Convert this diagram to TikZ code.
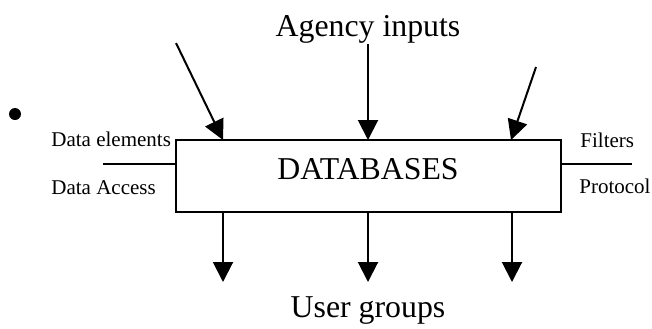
\documentclass[tikz,border=0pt]{standalone}
\usepackage{fontspec}
\setmainfont{Liberation Serif}
\usetikzlibrary{arrows.meta}
\begin{document}
\begin{tikzpicture}[x=0.5pt,y=-0.5pt,
  box/.style={draw,line width=1pt,minimum width=192.5pt,minimum height=36pt,inner sep=0pt},
  big/.style={font=\fontsize{15.9}{18}\selectfont,inner sep=0pt},
  small/.style={font=\fontsize{10.5}{12}\selectfont,inner sep=0pt},
  arr/.style={line width=1pt,-{Triangle[length=10pt,width=10pt]}},
  ln/.style={line width=1pt}]
\useasboundingbox (0,0) rectangle (652,328);
\node[box] (db) at (368.5,176) {};
\node[big,anchor=base] (dbt) at (368,179) {DATABASES};
\node[big,anchor=base] (ag) at (368,36) {Agency inputs};
\node[big,anchor=base] (ug) at (368,317) {User groups};
\node[small,anchor=base west] (de) at (51,146) {Data elements};
\node[small,anchor=base west] (da) at (51,194) {Data Access};
\node[small,anchor=base west] (fi) at (580,147) {Filters};
\node[small,anchor=base west] (pr) at (579,193) {Protocol};
\node[fill,circle,inner sep=0pt,minimum size=6pt] (bul) at (15,114) {};
% input arrows
\coordinate (in1) at (176,43);
\coordinate (in2) at (368,44);
\coordinate (in3) at (536,67);
\coordinate (t1) at (223,140);
\coordinate (t2) at (368,140);
\coordinate (t3) at (511,140);
\draw[arr] (in1) -- (t1);
\draw[arr] (in2) -- (t2);
\draw[arr] (in3) -- (t3);
% output arrows
\coordinate (o1) at (223,282);
\coordinate (o2) at (368,282);
\coordinate (o3) at (512,282);
\draw[arr] (db.south -| o1) -- (o1);
\draw[arr] (db.south -| o2) -- (o2);
\draw[arr] (db.south -| o3) -- (o3);
% side lines
\coordinate (l1) at (103,164);
\coordinate (r1) at (632,164);
\draw[ln] (l1) -- (db.west |- l1);
\draw[ln] (db.east |- r1) -- (r1);
\end{tikzpicture}
\end{document}
